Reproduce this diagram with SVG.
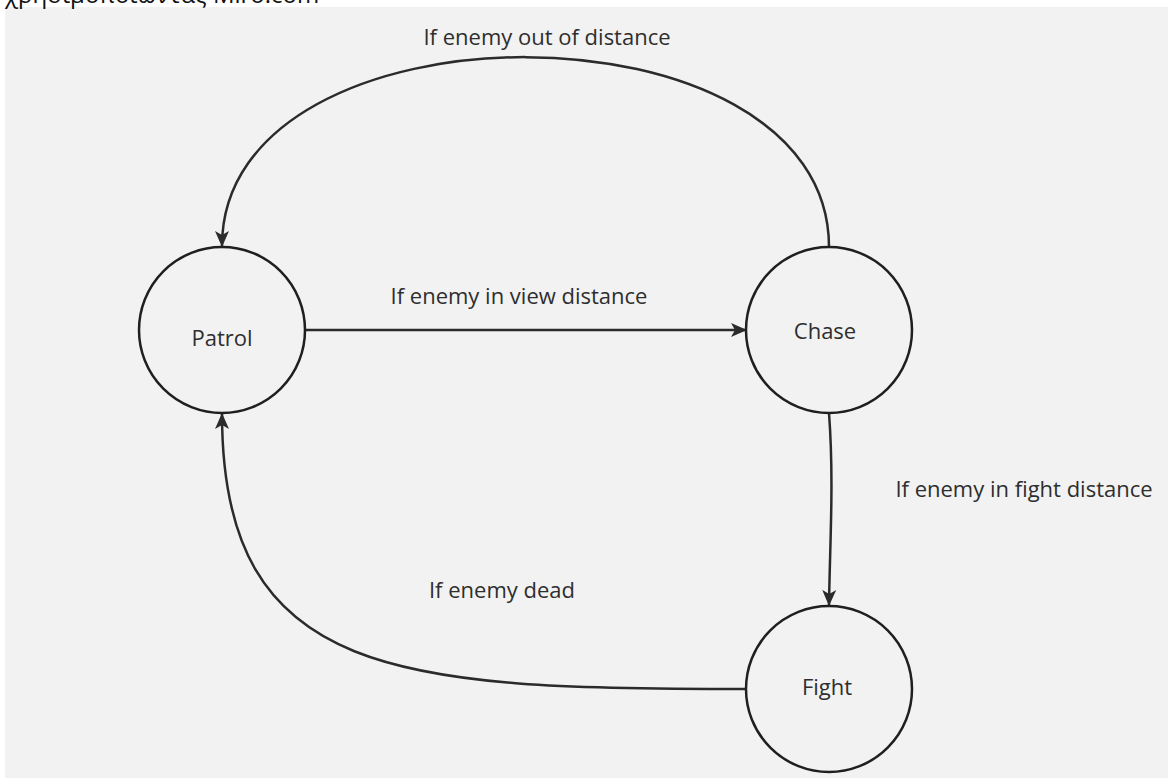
<svg xmlns="http://www.w3.org/2000/svg" width="1168" height="778" viewBox="0 0 1168 778">
  <style>
    .node circle { fill: #f2f2f2; stroke: #1f1f1f; stroke-width: 2.5; }
    .node text, .label { font-family: "Open Sans", "Noto Sans", "DejaVu Sans", sans-serif; font-size: 22px; fill: #2e2e2e; text-anchor: middle; }
    .edge { fill: none; stroke: #2b2b2b; stroke-width: 2.5; marker-end: url(#arrow); }
  </style>
  <defs>
    <marker id="arrow" viewBox="0 0 16 16" refX="15" refY="8" markerWidth="16" markerHeight="16" markerUnits="userSpaceOnUse" orient="auto">
      <path d="M0,1 L16,8 L0,15 L4,8 Z" fill="#2b2b2b"/>
    </marker>
  </defs>

  <rect x="0" y="0" width="1168" height="778" fill="#ffffff"/>
  <rect x="5" y="7" width="1163" height="771" fill="#f2f2f2"/>
  <text x="5" y="3" font-family="'Open Sans', 'Noto Sans', sans-serif" font-size="24" fill="#111">χρησιμοποιώντας Miro.com</text>

  <g id="connectors">
    <path class="edge" d="M305,330 L746,330"/>
    <path class="edge" d="M829,247 C829,-6 222,-6 222,246"/>
    <path class="edge" d="M829,413 C834,480 830,540 829,605"/>
    <path class="edge" d="M747,689 C400,689 222,680 222,414"/>
    <text class="label" x="547" y="45">If enemy out of distance</text>
    <text class="label" x="519" y="304">If enemy in view distance</text>
    <text class="label" x="1024" y="497">If enemy in fight distance</text>
    <text class="label" x="502" y="598">If enemy dead</text>
  </g>

  <g id="patrol" class="node">
    <circle cx="222" cy="330" r="83"/>
    <text x="222" y="346">Patrol</text>
  </g>
  <g id="chase" class="node">
    <circle cx="829" cy="330" r="83"/>
    <text x="825" y="339">Chase</text>
  </g>
  <g id="fight" class="node">
    <circle cx="829" cy="689" r="83"/>
    <text x="827" y="695">Fight</text>
  </g>
</svg>
